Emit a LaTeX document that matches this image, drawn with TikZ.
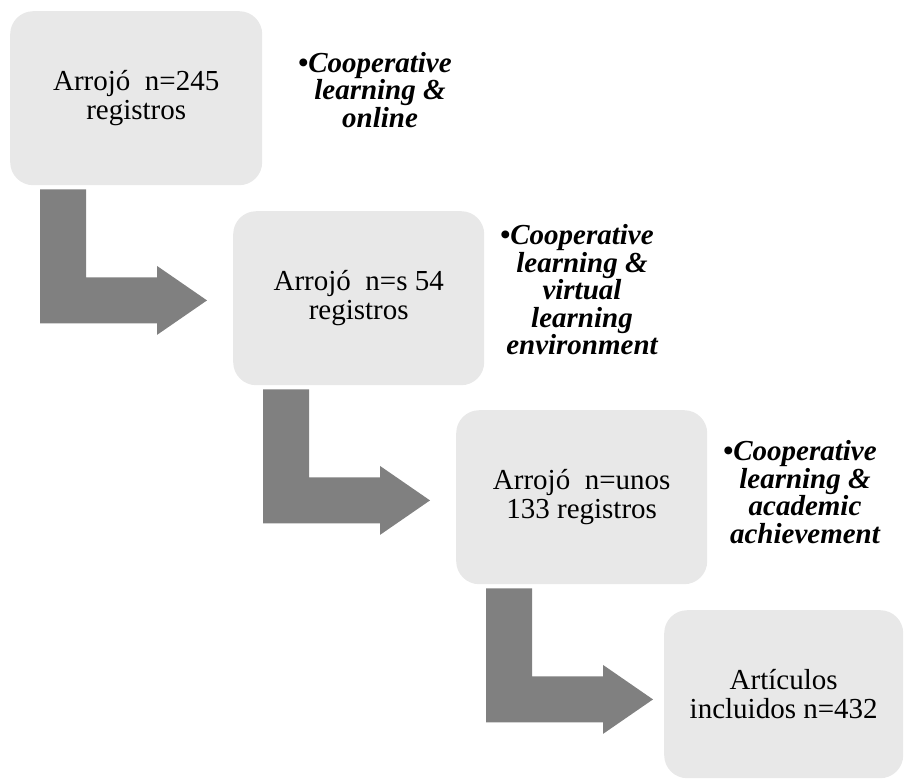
\documentclass[tikz,border=0pt]{standalone}
\usepackage{fontspec}
\setmainfont{Liberation Serif}
\usepackage{tikz}
\usetikzlibrary{calc}
\usepackage{xcolor}

\begin{document}
\begin{tikzpicture}[
  x=1pt,
  y=-1pt,
  box/.style={fill=black!9,rounded corners=23pt,inner sep=0pt,
    anchor=north west,align=center,
    font=\fontsize{29}{29.5}\selectfont},
  query/.style={align=center,
    font=\fontsize{29}{27.5}\selectfont\bfseries\itshape},
  bentarrow/.style={fill=black!50}
]
  \useasboundingbox (0,0) rectangle (904,780);

  % Search steps.
  \node[box,minimum width=252pt,minimum height=174pt] (s1) at (10,11)
    {Arrojó\ \ n=245\\registros};
  \node[box,minimum width=251pt,minimum height=174pt] (s2) at (233,211)
    {Arrojó\ \ n=s 54\\registros};
  \node[box,minimum width=251pt,minimum height=174pt] (s3) at (456,410)
    {Arrojó\ \ n=unos\\133 registros};
  \node[box,minimum width=239pt,minimum height=168pt] (s4) at (664,610)
    {Artículos\\incluidos n=432};

  % Search strings.
  \node[query] (q1) at (380,90) {\llap{•}Cooperative\\learning \&\\online};
  \node[query] (q2) at (582,290)
    {\llap{•}Cooperative\\learning \&\\virtual\\learning\\environment};
  \node[query] (q3) at (805,492)
    {\llap{•}Cooperative\\learning \&\\academic\\achievement};

  % Bent arrows, hung below each step.
  \foreach \a in {s1,s2,s3}
    \fill[bentarrow] ($(\a.south west)+(30,4)$) -- ++(46,0) -- ++(0,88)
      -- ++(71,0) -- ++(0,-11.5) -- ++(50,34.5) -- ++(-50,34.5)
      -- ++(0,-11.5) -- ++(-117,0) -- cycle;
\end{tikzpicture}
\end{document}
